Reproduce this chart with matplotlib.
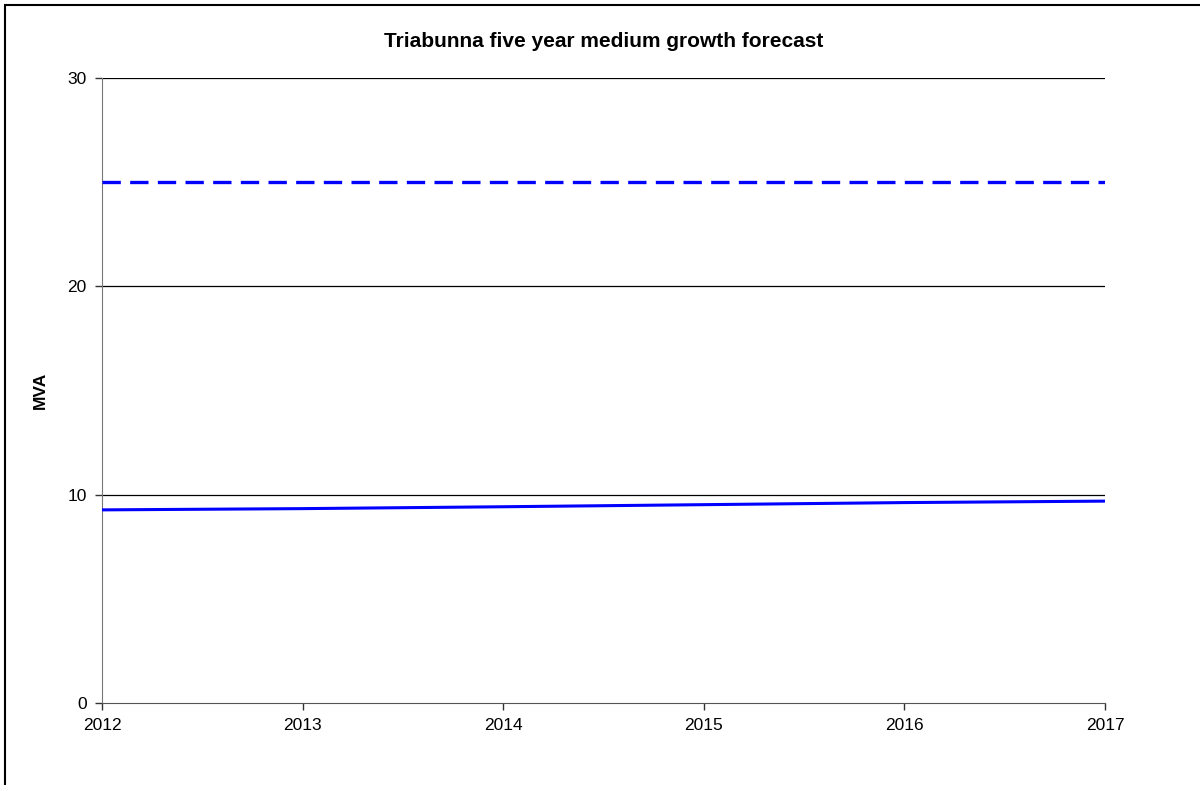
import matplotlib
matplotlib.use('Agg')
import matplotlib.pyplot as plt
from matplotlib.patches import Rectangle

# ── data ──────────────────────────────────────────────
years    = [2012, 2013, 2014, 2015, 2016, 2017]
forecast = [9.27, 9.33, 9.42, 9.52, 9.62, 9.69]
rating   = [25, 25, 25, 25, 25, 25]
yticks   = [0, 10, 20, 30]

plt.rcParams.update({'font.family': ['Liberation Sans', 'DejaVu Sans'],
                     'font.size': 12.5})

fig = plt.figure(figsize=(12, 7.85), dpi=100)
# outer chart frame (only top/left edges fall inside the picture)
fig.patches.append(Rectangle((5/1200, -0.1), 1.2, 1 - 5/785 + 0.1,
                             transform=fig.transFigure, fill=False,
                             edgecolor='black', lw=1.5))

ax = fig.add_axes([102/1200, 1 - 703/785, (1105-102)/1200, (703-78)/785])
for y in yticks[1:]:
    ax.axhline(y, color='black', lw=0.9, zorder=1)

ax.plot(years, rating, color='#0000ff', lw=2.4, linestyle=(0, (5.5, 2.8)), zorder=3)
ax.plot(years, forecast, color='#0000ff', lw=2.2, zorder=3)

ax.set_xlim(years[0], years[-1])
ax.set_ylim(0, 30)
ax.set_xticks(years)
ax.set_yticks(yticks)
ax.spines['top'].set_visible(False)
ax.spines['right'].set_visible(False)
ax.spines['left'].set_color('#777777')
ax.spines['bottom'].set_color('#555555')
ax.tick_params(length=5, width=1, color='#333333', pad=6)
ax.set_ylabel('MVA', fontweight='bold', labelpad=14)
ax.set_title('Triabunna five year medium growth forecast', fontweight='bold', pad=22)

fig.savefig('out.png', dpi=100, facecolor='white')
